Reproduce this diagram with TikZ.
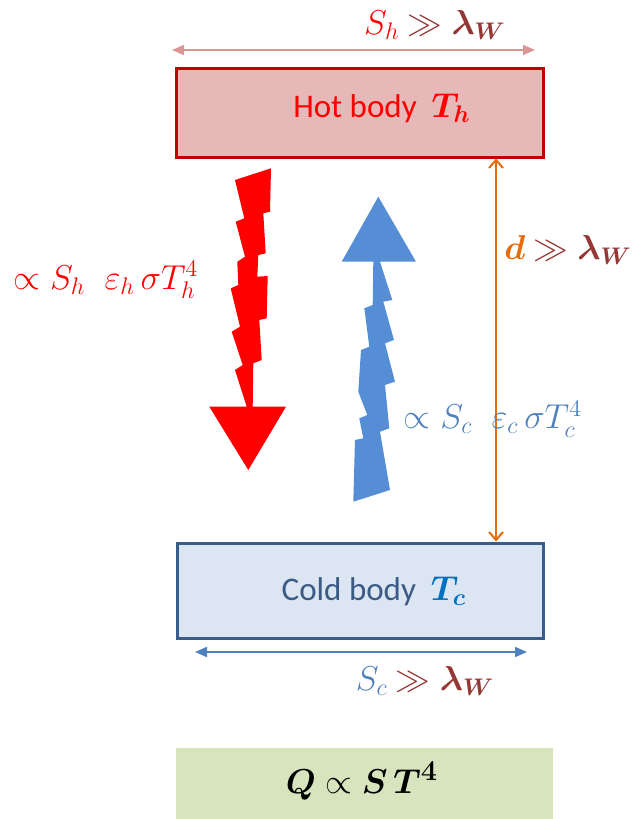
\documentclass[tikz,border=0pt]{standalone}
\usepackage{amsmath,amssymb,bm}
\usepackage{fontspec}
\setmainfont{Carlito}
\usetikzlibrary{arrows.meta}
\definecolor{HotRed}{HTML}{FF0000}
\definecolor{HotEdge}{HTML}{C00000}
\definecolor{HotFill}{HTML}{E6B9B8}
\definecolor{HotDim}{HTML}{D99694}
\definecolor{ColdFill}{HTML}{DCE6F2}
\definecolor{ColdEdge}{HTML}{385D8A}
\definecolor{ColdText}{HTML}{3B5A86}
\definecolor{ColdBlue}{HTML}{558ED5}
\definecolor{ColdDim}{HTML}{4F81BD}
\definecolor{TcBlue}{HTML}{0070C0}
\definecolor{WaveBrown}{HTML}{953735}
\definecolor{DistOrange}{HTML}{E46C0A}
\definecolor{LawGreen}{HTML}{D7E4BD}

\begin{document}
\begin{tikzpicture}[
  x=0.5pt, y=-0.5pt,
  body/.style={rectangle, line width=1.5pt, inner sep=0pt},
  bodytxt/.style={font=\fontsize{16.5}{19}\selectfont, inner sep=0pt},
  mathlbl/.style={font=\fontsize{17.28}{20}\selectfont, inner sep=0pt},
  hotdim/.style={{Triangle[length=6pt,width=5pt]}-{Triangle[length=6pt,width=5pt]}, line width=0.9pt, color=HotDim},
  colddim/.style={{Triangle[length=6pt,width=5pt]}-{Triangle[length=6pt,width=5pt]}, line width=0.9pt, color=ColdDim},
  distarr/.style={{Straight Barb[length=4pt,width=7pt]}-{Straight Barb[length=4pt,width=7pt]}, line width=1pt, color=DistOrange}
]
  \useasboundingbox (0,0) rectangle (640,819);

  % bodies
  \node[body, draw=HotEdge, fill=HotFill, minimum width=183.5pt, minimum height=44.5pt] (hot) at (359.5,112.5) {};
  \node[body, draw=ColdEdge, fill=ColdFill, minimum width=183pt, minimum height=47.5pt] (cold) at (360,590.5) {};
  \node[rectangle, fill=LawGreen, minimum width=188.5pt, minimum height=36pt, inner sep=0pt] (law) at (364.5,784) {};

  \node[bodytxt, text=HotRed] (hottxt) at (382,108) {Hot body\ \ $\bm{T_h}$};
  \node[bodytxt, text=ColdText] (coldtxt) at (374,591) {Cold body\ \ \textcolor{TcBlue}{$\bm{T_c}$}};
  \node[inner sep=0pt, font=\fontsize{19}{22}\selectfont] (lawtxt) at (362,781) {$\bm{Q}\propto\bm{S}\,\bm{T}^{\bm{4}}$};

  % sizes and distance
  \coordinate (hl) at (172,50);
  \coordinate (hr) at (535,50);
  \coordinate (cl) at (195,652);
  \coordinate (cr) at (527,652);
  \coordinate (dx) at (496,0);
  \draw[hotdim] (hl) -- (hr);
  \draw[colddim] (cl) -- (cr);
  \draw[distarr] (hot.south -| dx) -- (cold.north -| dx);

  \node[mathlbl] (shlbl) at (435,25) {$\textcolor{HotRed}{S_h}\ \textcolor{WaveBrown}{\gg\bm{\lambda_W}}$};
  \node[mathlbl] (sclbl) at (425,681) {$\textcolor{ColdDim}{S_c}\ \textcolor{WaveBrown}{\gg\bm{\lambda_W}}$};
  \node[mathlbl] (dlbl) at (568,250) {$\textcolor{DistOrange}{\bm{d}}\ \textcolor{WaveBrown}{\gg\bm{\lambda_W}}$};

  % radiated fluxes
  \node[mathlbl, text=HotRed] (qh) at (106,280) {$\propto S_h\;\;\varepsilon_h\,\sigma T_h^4$};
  \node[mathlbl, text=ColdDim] (qc) at (493,419) {$\propto S_c\;\;\varepsilon_c\,\sigma T_c^4$};

  \fill[HotRed] (235,180) -- (271,168.3) -- (270,211.7) -- (263.3,213.3) -- (265.7,253.3)
    -- (258.3,255) -- (257.3,276.7) -- (267.7,276) -- (266.7,318.3) -- (259.3,320)
    -- (261.7,360) -- (253.3,363.3) -- (252.7,406.7) -- (286,406.7) -- (248.3,470)
    -- (209.3,406.7) -- (246.7,406.7) -- (235,370) -- (242.7,365) -- (231.7,331.7)
    -- (240,326.7) -- (230.7,288.3) -- (238.3,285) -- (237.3,261.7) -- (245,256.7)
    -- (235.7,221.7) -- (244.3,218.3) -- cycle;

  \fill[ColdBlue] (378.3,196.7) -- (416,261.7) -- (380,261.7) -- (392.3,300) -- (383.3,301.7)
    -- (394,340) -- (385,343.3) -- (395,381.7) -- (385,385) -- (389.3,428.3)
    -- (380,431.7) -- (390,490) -- (353.3,501.7) -- (355,440) -- (363.3,438.3)
    -- (359.3,418.3) -- (367.3,415) -- (358.3,391.7) -- (361,350) -- (369.3,346.7)
    -- (364.3,308.3) -- (372.7,305) -- (373.3,261.7) -- (341.7,261.7) -- cycle;
\end{tikzpicture}
\end{document}
